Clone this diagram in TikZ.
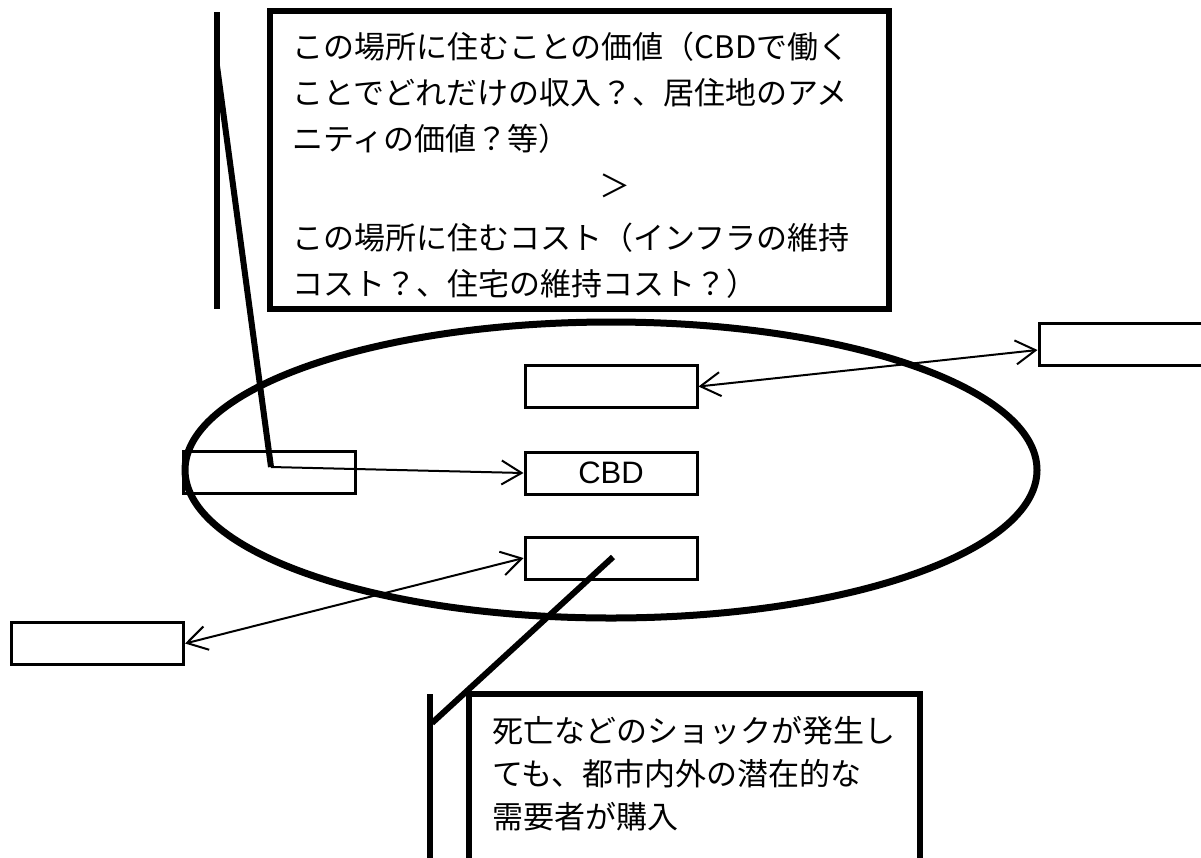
\documentclass[tikz,border=0pt]{standalone}
\usepackage{fontspec}
\newfontfamily\jpfont{Noto Sans CJK JP}
\newfontfamily\latfont{Liberation Sans}
\usetikzlibrary{arrows.meta}
\tikzset{
  smallbox/.style={draw, line width=3pt, inner sep=0pt, minimum width=172pt, minimum height=42pt},
  bigbox/.style={draw, line width=6pt, inner sep=0pt},
  lead/.style={line width=6pt},
  jptext/.style={font=\jpfont\fontsize{31pt}{40pt}\selectfont, inner sep=0pt, anchor=west, text height=27.3pt, text depth=3.7pt},
  link/.style={line width=2pt, -{Straight Barb[length=20pt,width=24pt]}},
  dlink/.style={line width=2pt, {Straight Barb[length=20pt,width=24pt]}-{Straight Barb[length=20pt,width=24pt]}}
}
\begin{document}
\begin{tikzpicture}[x=1pt,y=-1pt]
\useasboundingbox (0,0) rectangle (1201,857);
\clip (0,0) rectangle (1201,857);
\fill[white] (0,0) rectangle (1201,857);

% region ellipse
\draw[line width=7pt] (611,470) ellipse [x radius=426, y radius=148];

% small boxes
\node[smallbox] (hi) at (611,386.5) {};
\node[smallbox] (cbd) at (611,473) {\latfont\fontsize{31pt}{34pt}\selectfont CBD};
\node[smallbox] (low) at (611,558) {};
\node[smallbox] (home) at (269,472) {};
\node[smallbox] (east) at (1125,344) {};
\node[smallbox] (west) at (97.5,643.5) {};

% connectors
\coordinate (p1) at (271,467);
\draw[link] (p1) -- (cbd.west);
\draw[dlink] (hi.east) -- ([yshift=-6pt]east.west);
\draw[dlink] (low.west) -- (west.east);

% top callout
\node[bigbox, minimum width=619pt, minimum height=298pt] (topbox) at (579.5,160) {};
\coordinate (v1a) at (217,12);
\coordinate (v1b) at (217,309);
\coordinate (v1p) at (217,66);
\draw[lead] (v1a) -- (v1b);
\draw[lead] (v1p) -- (p1);
\node[jptext] (t1) at (292,47) {この場所に住むことの価値（CBDで働く};
\node[jptext] (t2) at (292,93) {ことでどれだけの収入？、居住地のアメ};
\node[jptext] (t3) at (292,139) {ニティの価値？等）};
\node[jptext] (t4) at (599,186) {＞};
\node[jptext] (t5) at (292,238) {この場所に住むコスト（インフラの維持};
\node[jptext] (t6) at (292,284) {コスト？、住宅の維持コスト？）};

% bottom callout
\node[bigbox, minimum width=451pt, minimum height=230pt] (botbox) at (694.5,809) {};
\coordinate (v2a) at (430,694);
\coordinate (v2b) at (430,880);
\coordinate (v2p) at (432,723);
\coordinate (p2) at (613,557);
\draw[lead] (v2a) -- (v2b);
\draw[lead] (v2p) -- (p2);
\node[jptext] (b1) at (492,731) {死亡などのショックが発生し};
\node[jptext] (b2) at (492,774) {ても、都市内外の潜在的な};
\node[jptext] (b3) at (492,817) {需要者が購入};
\end{tikzpicture}
\end{document}
